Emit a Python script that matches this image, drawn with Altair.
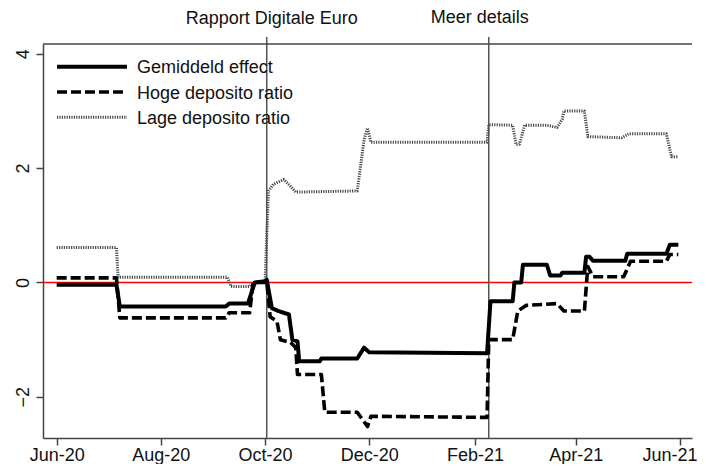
import altair as alt
import pandas as pd

series_names = ["Gemiddeld effect", "Hoge deposito ratio", "Lage deposito ratio"]

gem_dates = ["2020-06-01", "2020-07-06", "2020-07-08", "2020-09-08", "2020-09-10", "2020-09-21",
             "2020-09-25", "2020-10-01", "2020-10-02", "2020-10-05", "2020-10-09", "2020-10-15",
             "2020-10-17", "2020-10-20", "2020-10-21", "2020-11-02", "2020-11-03", "2020-11-24",
             "2020-11-28", "2020-12-01", "2021-02-08", "2021-02-10", "2021-02-23", "2021-02-24",
             "2021-02-28", "2021-03-01", "2021-03-15", "2021-03-17", "2021-03-23", "2021-03-24",
             "2021-04-06", "2021-04-07", "2021-04-09", "2021-04-11", "2021-04-30", "2021-05-01",
             "2021-05-24", "2021-05-26", "2021-05-31"]
gem_values = [-0.04, -0.04, -0.42, -0.42, -0.37, -0.37,
              0.0, 0.02, 0.05, -0.45, -0.5, -0.56,
              -1.0, -1.03, -1.38, -1.38, -1.33, -1.33,
              -1.14, -1.22, -1.24, -0.33, -0.33, 0.0,
              0.0, 0.31, 0.31, 0.12, 0.12, 0.17,
              0.17, 0.45, 0.45, 0.38, 0.38, 0.5,
              0.5, 0.66, 0.66]

hoog_dates = ["2020-06-01", "2020-07-06", "2020-07-08", "2020-09-08", "2020-09-10", "2020-09-22",
              "2020-09-24", "2020-10-01", "2020-10-02", "2020-10-04", "2020-10-08", "2020-10-10",
              "2020-10-16", "2020-10-19", "2020-10-20", "2020-11-03", "2020-11-05", "2020-11-24",
              "2020-11-30", "2020-12-02", "2021-02-08", "2021-02-09", "2021-02-23", "2021-02-26",
              "2021-03-03", "2021-03-21", "2021-03-25", "2021-04-06", "2021-04-08", "2021-04-11",
              "2021-04-29", "2021-05-03", "2021-05-24", "2021-05-26", "2021-05-31"]
hoog_values = [0.08, 0.08, -0.62, -0.62, -0.53, -0.53,
               0.0, 0.0, 0.02, -0.6, -0.68, -1.0,
               -1.05, -1.14, -1.61, -1.61, -2.27, -2.27,
               -2.52, -2.34, -2.36, -1.0, -1.0, -0.5,
               -0.4, -0.37, -0.5, -0.5, 0.28, 0.1,
               0.1, 0.37, 0.37, 0.49, 0.49]

laag_dates = ["2020-06-01", "2020-07-06", "2020-07-07", "2020-09-09", "2020-09-11", "2020-09-22",
              "2020-09-24", "2020-10-01", "2020-10-03", "2020-10-06", "2020-10-12", "2020-10-16",
              "2020-10-19", "2020-11-24", "2020-11-28", "2020-11-30", "2020-12-02", "2021-02-08",
              "2021-02-09", "2021-02-23", "2021-02-25", "2021-02-27", "2021-03-02", "2021-03-15",
              "2021-03-21", "2021-03-24", "2021-03-25", "2021-04-06", "2021-04-08", "2021-04-28",
              "2021-05-02", "2021-05-24", "2021-05-27", "2021-05-31"]
laag_values = [0.61, 0.61, 0.09, 0.09, -0.07, -0.07,
               0.0, 0.0, 1.6, 1.72, 1.8, 1.68,
               1.58, 1.6, 2.5, 2.7, 2.45, 2.45,
               2.76, 2.75, 2.41, 2.42, 2.75, 2.75,
               2.71, 2.85, 3.0, 3.0, 2.55, 2.53,
               2.6, 2.6, 2.2, 2.2]

event_dates = ["2020-10-02", "2021-02-09"]
event_labels = ["Rapport Digitale Euro", "Meer details"]

x_tick_dates = ["2020-06-01", "2020-08-01", "2020-10-01", "2020-12-01",
                "2021-02-01", "2021-04-01", "2021-06-01"]
x_domain = ["2020-05-24", "2021-06-08"]
y_ticks = [-2, 0, 2, 4]
y_domain = [-2.72, 4.17]

W, H = 649, 394
FONT = "Liberation Sans"


def dt(s):
    y, m, d = (int(p) for p in s.split("-"))
    return alt.DateTime(year=y, month=m, date=d, utc=True)


rows = []
for name, ds, vs in zip(series_names, [gem_dates, hoog_dates, laag_dates],
                        [gem_values, hoog_values, laag_values]):
    for d, v in zip(ds, vs):
        rows.append({"series": name, "date": d, "value": v})
df = pd.DataFrame(rows)

styles = {
    "Gemiddeld effect": dict(color="#000000", strokeWidth=4),
    "Hoge deposito ratio": dict(color="#000000", strokeWidth=3.6, strokeDash=[10, 4]),
    "Lage deposito ratio": dict(color="#4a4a4a", strokeWidth=3, strokeDash=[1.2, 1.2]),
}

x_scale = alt.Scale(type="utc", domain=[dt(s) for s in x_domain], nice=False)
x_axis = alt.Axis(values=[dt(s) for s in x_tick_dates], format="%b-%y", title=None,
                  grid=False, tickSize=7, labelPadding=1, labelFontSize=18,
                  labelFont=FONT, labelColor="#111111", domainColor="#444444",
                  domainWidth=1.5, tickColor="#444444", tickWidth=1.5,
                  labelOverlap=False, labelFlush=13, labelFlushOffset=17)
y_scale = alt.Scale(domain=y_domain, nice=False, zero=False)
y_axis = alt.Axis(values=y_ticks, title=None, grid=False, tickSize=7, labelAngle=270,
                  labelAlign="center", labelBaseline="bottom", labelPadding=4,
                  labelFontSize=18, labelFont=FONT, labelColor="#111111",
                  domainColor="#444444", domainWidth=1.5, tickColor="#444444",
                  tickWidth=1.5)

layers = []

# zero line
zero_df = pd.DataFrame({"value": [0]})
layers.append(
    alt.Chart(zero_df).mark_rule(color="#ff0000", strokeWidth=1.5).encode(
        y=alt.Y("value:Q", scale=y_scale, axis=y_axis)
    )
)

# event lines and labels
ev_df = pd.DataFrame({"date": event_dates, "label": event_labels})
layers.append(
    alt.Chart(ev_df).mark_rule(color="#555555", strokeWidth=1.5).encode(
        x=alt.X("date:T", scale=x_scale, axis=x_axis),
        y=alt.value(-7), y2=alt.value(H)
    )
)
text_dx = [5, -9]
text_y = [-20, -21]
for i, lab in enumerate(event_labels):
    layers.append(
        alt.Chart(ev_df[ev_df["label"] == lab]).mark_text(
            font=FONT, fontSize=18, color="#111111", align="center",
            baseline="alphabetic", dx=text_dx[i]
        ).encode(
            x=alt.X("date:T", scale=x_scale, axis=x_axis),
            y=alt.value(text_y[i]),
            text="label:N"
        )
    )

# top frame line
layers.append(
    alt.Chart(pd.DataFrame({"a": [0]})).mark_rule(color="#444444", strokeWidth=1.5).encode(
        x=alt.value(0), x2=alt.value(W), y=alt.value(0)
    )
)

# series lines (drawn so solid is on top)
for name in [series_names[2], series_names[1], series_names[0]]:
    layers.append(
        alt.Chart(df[df["series"] == name]).mark_line(
            strokeJoin="round", strokeCap="butt", **styles[name]
        ).encode(
            x=alt.X("date:T", scale=x_scale, axis=x_axis),
            y=alt.Y("value:Q", scale=y_scale, axis=y_axis)
        )
    )

# manual legend
for i, name in enumerate(series_names):
    leg_df = pd.DataFrame({"series": [name]})
    layers.append(
        alt.Chart(leg_df).mark_rule(strokeCap="butt", **styles[name]).encode(
            x=alt.value(14), x2=alt.value(84), y=alt.value(22.7 + 25.3 * i)
        )
    )
    layers.append(
        alt.Chart(leg_df).mark_text(
            font=FONT, fontSize=18, color="#111111", align="left", baseline="alphabetic"
        ).encode(
            x=alt.value(94), y=alt.value(29 + 25.5 * i), text="series:N"
        )
    )

chart = alt.layer(*layers).properties(
    width=W, height=H,
    padding={"left": 35, "top": 36, "right": 6, "bottom": 26},
    autosize=alt.AutoSizeParams(type="none"),
).configure_view(stroke=None)

chart.save("out.html", embed_options={"renderer": "svg", "actions": False})
